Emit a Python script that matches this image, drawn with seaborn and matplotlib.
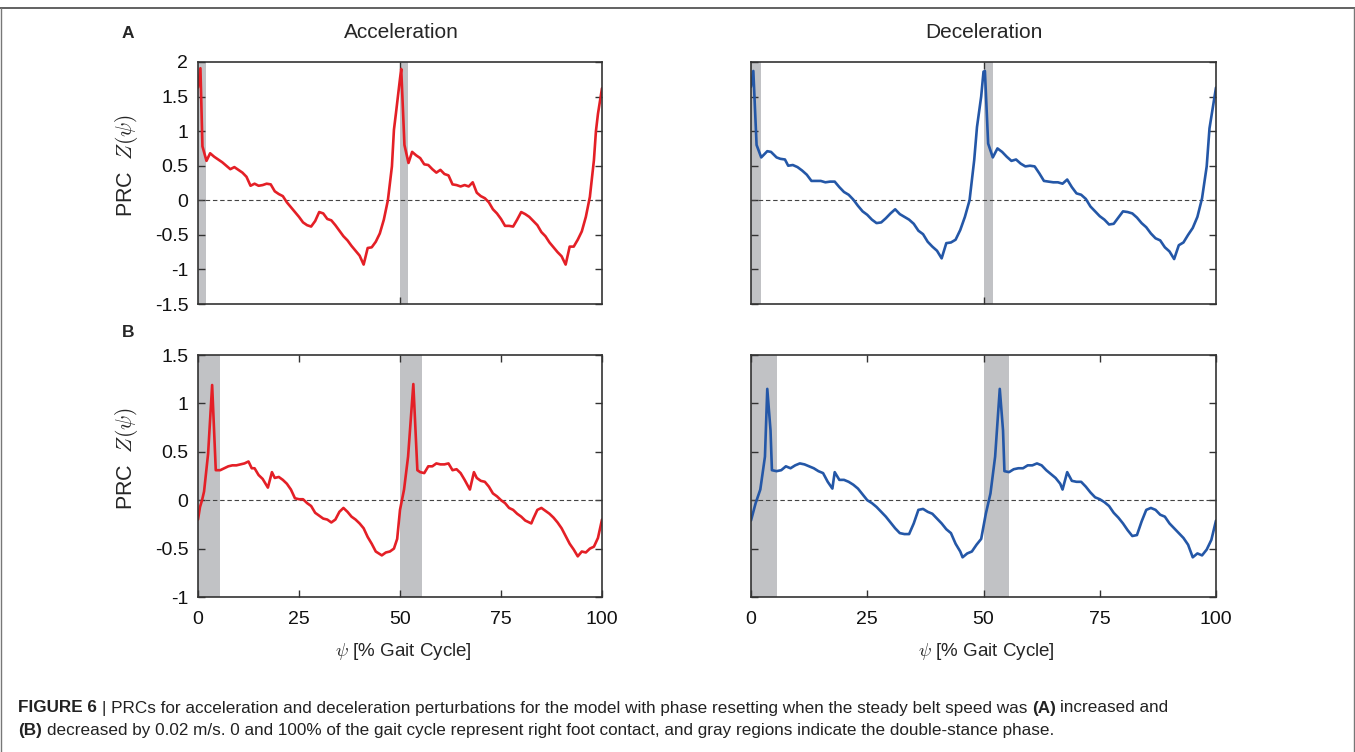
import matplotlib.pyplot as plt
import pandas as pd
import seaborn as sns
from matplotlib.lines import Line2D

# (A) belt speed increased -- acceleration (red) and deceleration (blue)
acc_a_psi = [0, 0.6, 1.1, 2.1, 3, 4, 5, 6, 7, 8, 9, 10, 11, 12, 13, 14, 15, 16, 17, 18,
             19, 20, 21, 22, 23, 24, 25, 26, 27, 28, 29, 30, 31, 32, 33, 34, 35, 36, 37, 38,
             39, 40, 41, 42, 43, 44, 45, 46, 47, 48, 48.5, 49, 50, 50.3, 51.1, 52.1,
             53, 54, 55, 56, 57, 58, 59, 60, 61, 62, 63, 64, 65, 66, 67, 68, 69, 70, 71, 72,
             73, 74, 75, 76, 77, 78, 79, 80, 81, 82, 83, 84, 85, 86, 87, 88, 89, 90, 91, 92,
             93, 94, 95, 96, 97, 98, 98.5, 99, 100]
acc_a_prc = [1.63, 1.91, 0.78, 0.57, 0.68, 0.63, 0.59, 0.55, 0.50, 0.45, 0.48, 0.44, 0.40, 0.34,
             0.21, 0.24, 0.21, 0.22, 0.24, 0.23, 0.13, 0.09, 0.06, -0.03, -0.10, -0.17, -0.24,
             -0.32, -0.36, -0.38, -0.30, -0.17, -0.19, -0.27, -0.29, -0.36, -0.44, -0.52, -0.58,
             -0.66, -0.73, -0.80, -0.93, -0.69, -0.68, -0.60, -0.48, -0.28, 0.00, 0.49, 1.02,
             1.26, 1.76, 1.90, 0.80, 0.54, 0.70, 0.65, 0.61, 0.52, 0.51, 0.45, 0.40, 0.44, 0.38,
             0.36, 0.23, 0.22, 0.20, 0.22, 0.20, 0.26, 0.11, 0.06, 0.03, -0.03, -0.13, -0.19,
             -0.27, -0.37, -0.37, -0.38, -0.28, -0.17, -0.20, -0.24, -0.30, -0.36, -0.46, -0.52,
             -0.61, -0.68, -0.75, -0.81, -0.93, -0.67, -0.67, -0.57, -0.45, -0.24, 0.05, 0.58,
             1.00, 1.25, 1.62]

dec_a_psi = [0, 0.5, 1.2, 2.2, 3.5, 4.3, 5.5, 6.3, 7.3, 8, 9, 10, 11, 12, 13, 14, 15, 16, 17, 18,
             19, 20, 21, 22, 23, 24, 25, 26, 27, 28, 29, 30, 31, 32, 33, 34, 35, 36, 37, 38,
             39, 40, 41, 42, 43, 44, 45, 46, 47, 48, 48.6, 49.5, 50, 50.3, 51, 52,
             53, 54, 55, 56, 57, 58, 59, 60, 61, 62, 63, 64, 65, 66, 67, 68, 69, 70, 71, 72,
             73, 74, 75, 76, 77, 78, 79, 80, 81, 82, 83, 84, 85, 86, 87, 88, 89, 90, 91, 92,
             93, 94, 95, 96, 97, 98, 98.6, 100]
dec_a_prc = [1.64, 1.87, 0.80, 0.62, 0.71, 0.70, 0.62, 0.60, 0.59, 0.50, 0.51, 0.48, 0.43, 0.37,
             0.28, 0.28, 0.28, 0.26, 0.27, 0.27, 0.19, 0.12, 0.08, 0.01, -0.08, -0.16, -0.21,
             -0.28, -0.33, -0.32, -0.26, -0.19, -0.13, -0.20, -0.24, -0.28, -0.34, -0.44, -0.49,
             -0.60, -0.67, -0.73, -0.84, -0.62, -0.61, -0.57, -0.43, -0.24, 0.00, 0.58, 1.06,
             1.50, 1.86, 1.87, 0.82, 0.62, 0.75, 0.70, 0.63, 0.57, 0.59, 0.53, 0.49, 0.50, 0.49,
             0.39, 0.28, 0.27, 0.26, 0.26, 0.24, 0.30, 0.19, 0.10, 0.08, 0.02, -0.09, -0.16,
             -0.23, -0.28, -0.35, -0.34, -0.25, -0.16, -0.17, -0.19, -0.25, -0.33, -0.39, -0.48,
             -0.55, -0.58, -0.68, -0.74, -0.85, -0.65, -0.61, -0.50, -0.40, -0.24, 0.03, 0.49,
             1.04, 1.63]

# (B) belt speed decreased
acc_b_psi = [0, 0.5, 1, 1.5, 2.5, 3.5, 4.4, 5.5, 6.5, 7.5, 8.5, 9.5, 10.5, 11.5, 12.5, 13.3, 14,
             15, 16, 17.3, 18.3, 19, 20, 21, 22, 23, 24, 25, 26, 27, 28, 29, 30, 31, 32, 33,
             34, 35, 36, 37, 38, 39, 40, 41, 42, 43, 44, 45.5, 46.5, 47.5, 48.5, 49.3, 50, 51,
             52, 53.3, 54.3, 55, 56, 57, 58, 59, 60, 61, 62, 63, 64, 65, 66, 67.3, 68.3, 69,
             70, 71, 72, 73, 74, 75, 76, 77, 78, 79, 80, 81, 82.5, 83, 84, 85, 86, 87, 88,
             89, 90, 91, 92, 93, 94, 95, 96, 97, 98, 99, 100]
acc_b_prc = [-0.20, -0.07, 0.00, 0.09, 0.48, 1.19, 0.31, 0.31, 0.33, 0.35, 0.36, 0.36, 0.37, 0.38,
             0.40, 0.33, 0.33, 0.26, 0.22, 0.13, 0.29, 0.23, 0.24, 0.21, 0.17, 0.11, 0.02, 0.01,
             0.01, -0.03, -0.06, -0.13, -0.16, -0.19, -0.20, -0.23, -0.20, -0.12, -0.08, -0.12,
             -0.17, -0.20, -0.24, -0.29, -0.38, -0.45, -0.53, -0.57, -0.54, -0.53, -0.50, -0.40,
             -0.10, 0.11, 0.45, 1.20, 0.31, 0.29, 0.28, 0.35, 0.35, 0.38, 0.37, 0.37, 0.38, 0.31,
             0.32, 0.28, 0.21, 0.11, 0.29, 0.23, 0.20, 0.19, 0.14, 0.07, 0.04, 0.00, -0.03,
             -0.08, -0.10, -0.14, -0.17, -0.21, -0.24, -0.19, -0.10, -0.08, -0.11, -0.14, -0.18,
             -0.23, -0.29, -0.37, -0.45, -0.51, -0.58, -0.53, -0.54, -0.50, -0.48, -0.39, -0.20]

dec_b_psi = [0, 1, 2, 3, 3.5, 4.2, 4.5, 5.5, 6.5, 7.5, 8.5, 9.5, 10.5, 11.5, 12.5, 13.5, 14.5,
             15.5, 16.5, 17.5, 18, 19, 20, 21, 22, 23, 24, 25, 26, 27, 28, 29, 30, 31, 32, 33,
             34, 35, 36, 37, 38, 39, 40, 41, 42, 43, 44, 45, 45.5, 46.5, 47.5, 48.5, 49.5,
             50.5, 51.5, 52.5, 53.5, 54.2, 54.5, 55.5, 56.5, 57.5, 58.5, 59.5, 60.5, 61.5,
             62.5, 63.5, 64.5, 65.5, 66.5, 67, 68, 69, 70, 71, 72, 73, 74, 75, 76, 77, 78, 79,
             80, 81, 82, 83, 84, 85, 86, 87, 88, 89, 90, 91, 92, 93, 94, 95, 96, 97, 98, 99, 100]
dec_b_prc = [-0.21, -0.03, 0.11, 0.45, 1.15, 0.72, 0.31, 0.30, 0.31, 0.35, 0.33, 0.36, 0.38, 0.37,
             0.35, 0.33, 0.30, 0.28, 0.19, 0.12, 0.29, 0.21, 0.21, 0.19, 0.16, 0.12, 0.06, 0.00,
             -0.03, -0.07, -0.12, -0.17, -0.23, -0.29, -0.34, -0.35, -0.35, -0.24, -0.10, -0.09,
             -0.12, -0.14, -0.19, -0.24, -0.30, -0.34, -0.45, -0.53, -0.59, -0.55, -0.53, -0.46,
             -0.40, -0.14, 0.07, 0.45, 1.15, 0.72, 0.30, 0.29, 0.32, 0.33, 0.33, 0.36, 0.36, 0.38,
             0.36, 0.31, 0.27, 0.23, 0.17, 0.11, 0.29, 0.20, 0.19, 0.19, 0.14, 0.08, 0.03, 0.01,
             -0.02, -0.06, -0.13, -0.18, -0.24, -0.31, -0.37, -0.36, -0.22, -0.10, -0.08, -0.10,
             -0.15, -0.17, -0.24, -0.29, -0.34, -0.39, -0.46, -0.59, -0.55, -0.57, -0.51, -0.41,
             -0.21]

# double-stance phases (% gait cycle)
stance_a = [(0, 2.1), (50, 52.0)]
stance_b = [(0, 5.5), (50, 55.4)]

RED = '#e41f26'
BLUE = '#2457a7'
BAND = '#c1c2c5'

sns.set_style('ticks')
plt.rcParams['font.family'] = ['Liberation Sans', 'DejaVu Sans']
plt.rcParams['mathtext.fontset'] = 'cm'
plt.rcParams['axes.unicode_minus'] = False

W, H = 1355, 752
fig = plt.figure(figsize=(W / 100, H / 100), dpi=100)


def px_axes(x0, y0, x1, y1):
    return fig.add_axes([x0 / W, 1 - y1 / H, (x1 - x0) / W, (y1 - y0) / H])


def draw_panel(ax, psi, prc, color, stance, ylim, yticks, xticks, ylab, xlab):
    for s0, s1 in stance:
        ax.axvspan(s0, s1, color=BAND, lw=0, zorder=0)
    ax.axhline(0, color='#444444', lw=0.8, ls=(0, (4, 2.5)), zorder=1)
    df = pd.DataFrame({'psi': psi, 'prc': prc})
    sns.lineplot(data=df, x='psi', y='prc', color=color, lw=1.9, sort=False,
                 estimator=None, ax=ax, zorder=3)
    ax.set_xlim(0, 100)
    ax.set_ylim(*ylim)
    ax.set_xticks(xticks)
    ax.set_yticks(yticks)
    ax.set_yticklabels([f'{v:g}' for v in yticks] if ylab else [])
    ax.set_xticklabels([f'{v:g}' for v in xticks] if xlab else [])
    ax.set_xlabel('')
    ax.set_ylabel('')
    ax.tick_params(direction='in', top=True, right=True, length=5, width=1.0,
                   color='#333333', labelsize=14, labelcolor='#111111')
    ax.tick_params(axis='x', pad=10)
    ax.tick_params(axis='y', pad=7)
    for sp in ax.spines.values():
        sp.set_color('#333333')
        sp.set_linewidth(1.2)
        sp.set_zorder(4)


ax_al = px_axes(198, 62, 602, 304)
ax_ar = px_axes(751, 62, 1216, 304)
ax_bl = px_axes(198, 355, 602, 597)
ax_br = px_axes(751, 355, 1216, 597)

yt_a = [-1.5, -1, -0.5, 0, 0.5, 1, 1.5, 2]
yt_b = [-1, -0.5, 0, 0.5, 1, 1.5]
xt = [0, 25, 50, 75, 100]

draw_panel(ax_al, acc_a_psi, acc_a_prc, RED, stance_a, (-1.5, 2), yt_a, [50], True, False)
draw_panel(ax_ar, dec_a_psi, dec_a_prc, BLUE, stance_a, (-1.5, 2), yt_a, [50], False, False)
draw_panel(ax_bl, acc_b_psi, acc_b_prc, RED, stance_b, (-1, 1.5), yt_b, xt, True, True)
draw_panel(ax_br, dec_b_psi, dec_b_prc, BLUE, stance_b, (-1, 1.5), yt_b, xt, False, True)


def ftext(x, y, s, **kw):
    return fig.text(x / W, 1 - y / H, s, **kw)


ftext(401, 33, 'Acceleration', ha='center', va='center', fontsize=15)
ftext(984, 33, 'Deceleration', ha='center', va='center', fontsize=15)
ftext(128, 34, 'A', ha='center', va='center', fontsize=12.5, fontweight='bold')
ftext(128, 333, 'B', ha='center', va='center', fontsize=12.5, fontweight='bold')
for yc in (166, 459):
    ftext(126, yc, r'PRC  $Z(\psi)$', rotation=90, ha='center', va='center', fontsize=15.5)
for xc in (403, 986):
    ftext(xc, 652, r'$\psi$ [% Gait Cycle]', ha='center', va='center', fontsize=13.5)

# frame around figure + caption
fig.add_artist(Line2D([0, 1], [1 - 8 / H, 1 - 8 / H], color='#555555', lw=1.3))
fig.add_artist(Line2D([1 / W, 1 / W], [0, 1 - 8 / H], color='#777777', lw=1.0))
fig.add_artist(Line2D([1 - 1 / W, 1 - 1 / W], [0, 1 - 8 / H], color='#777777', lw=1.0))

cap_lines = [
    [('FIGURE 6', True), (' | PRCs for acceleration and deceleration perturbations for the model '
                         'with phase resetting when the steady belt speed was ', False),
     ('(A)', True), (' increased and', False)],
    [('(B)', True), (' decreased by 0.02 m/s. 0 and 100% of the gait cycle represent right foot '
                    'contact, and gray regions indicate the double-stance phase.', False)],
]
cap_font = ['Liberation Sans Narrow', 'Liberation Sans', 'DejaVu Sans']
cap_size = 12.3
renderer = fig.canvas.get_renderer()


def text_w(s, bold):
    t = fig.text(0, 0, s, family=cap_font, fontsize=cap_size,
                 fontweight='bold' if bold else 'normal')
    w = t.get_window_extent(renderer).width
    t.remove()
    return w


space_w = text_w('a a', False) - text_w('aa', False)
for yc, parts in zip((708, 731), cap_lines):
    x = 18
    for s, bold in parts:
        lead = len(s) - len(s.lstrip(' '))
        trail = len(s) - len(s.rstrip(' '))
        x += lead * space_w
        t = ftext(x, yc, s.strip(' '), family=cap_font, fontsize=cap_size, va='center',
                  fontweight='bold' if bold else 'normal', color='#222222')
        x += t.get_window_extent(renderer).width + trail * space_w

fig.savefig('out.png', dpi=100)
